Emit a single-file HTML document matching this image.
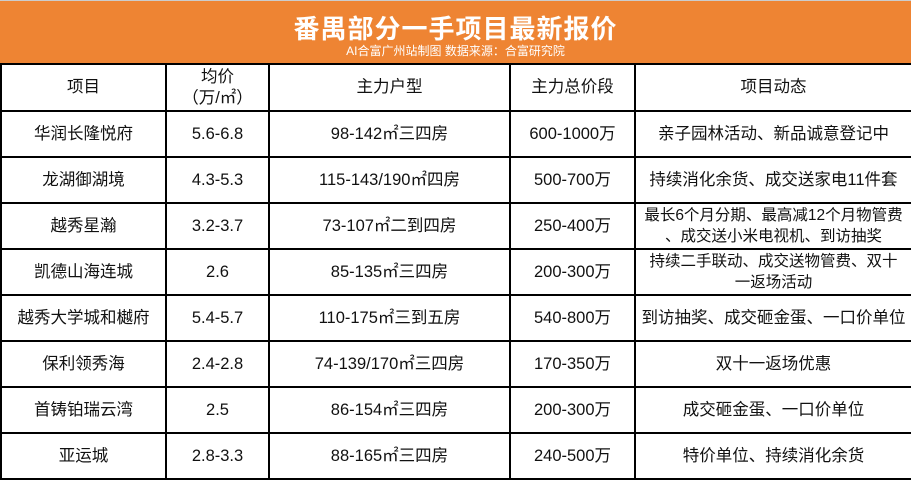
<!DOCTYPE html>
<html><head><meta charset="utf-8"><style>
html,body{margin:0;padding:0;width:911px;height:479px;overflow:hidden;background:#fff;font-family:"Liberation Sans","Noto Sans CJK SC",sans-serif;}
#hdr{position:absolute;left:0;top:0;width:911px;height:64px;background:#EE8433;border-top:1px solid #ccc;box-sizing:border-box;}
#title{position:absolute;left:0;width:911px;top:8px;text-align:center;color:#fff;font-size:26px;font-weight:bold;letter-spacing:1px;}
#sub{position:absolute;left:0;width:911px;top:41px;text-align:center;color:#fff;font-size:12px;}
table{position:absolute;left:0;top:63px;border-collapse:collapse;table-layout:fixed;width:911px;}
td{border:2px solid #000;text-align:center;font-size:16.5px;color:#111;padding:0;line-height:21px;}
tr{height:46px;}
tr.h{height:47px;}
</style></head><body>
<div id="hdr">
<div id="title">番禺部分一手项目最新报价</div>
<div id="sub">AI合富广州站制图 数据来源：合富研究院</div>
</div>
<table>
<colgroup><col style="width:165px"><col style="width:103px"><col style="width:241px"><col style="width:125px"><col style="width:277px"></colgroup>
<tr class="h"><td>项目</td><td>均价<br>（万/㎡）</td><td>主力户型</td><td>主力总价段</td><td>项目动态</td></tr>
<tr><td>华润长隆悦府</td><td>5.6-6.8</td><td>98-142㎡三四房</td><td>600-1000万</td><td>亲子园林活动、新品诚意登记中</td></tr>
<tr><td>龙湖御湖境</td><td>4.3-5.3</td><td>115-143/190㎡四房</td><td>500-700万</td><td>持续消化余货、成交送家电11件套</td></tr>
<tr><td>越秀星瀚</td><td>3.2-3.7</td><td>73-107㎡二到四房</td><td>250-400万</td><td style="font-size:15.5px">最长6个月分期、最高减12个月物管费<br>、成交送小米电视机、到访抽奖</td></tr>
<tr><td>凯德山海连城</td><td>2.6</td><td>85-135㎡三四房</td><td>200-300万</td><td style="font-size:15.5px">持续二手联动、成交送物管费、双十<br>一返场活动</td></tr>
<tr><td>越秀大学城和樾府</td><td>5.4-5.7</td><td>110-175㎡三到五房</td><td>540-800万</td><td>到访抽奖、成交砸金蛋、一口价单位</td></tr>
<tr><td>保利领秀海</td><td>2.4-2.8</td><td>74-139/170㎡三四房</td><td>170-350万</td><td>双十一返场优惠</td></tr>
<tr><td>首铸铂瑞云湾</td><td>2.5</td><td>86-154㎡三四房</td><td>200-300万</td><td>成交砸金蛋、一口价单位</td></tr>
<tr><td>亚运城</td><td>2.8-3.3</td><td>88-165㎡三四房</td><td>240-500万</td><td>特价单位、持续消化余货</td></tr>
</table>
</body></html>
